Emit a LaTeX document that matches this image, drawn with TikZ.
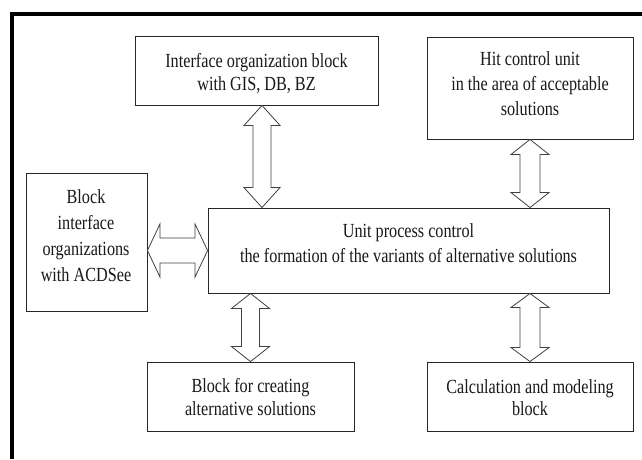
\documentclass[tikz,border=0pt]{standalone}
\usepackage{fontspec}
\setmainfont{Liberation Serif}[FakeStretch=0.81]
\usetikzlibrary{calc}
\tikzset{
  box/.style={draw=black!85, line width=0.9pt, fill=white, inner sep=0pt, minimum width=#1},
  lbl/.style={inner sep=0pt, align=center, text=black!90},
  arr/.style={draw=black!75, line width=0.8pt, fill=white, line join=miter},
}
% vertical double arrow: #1 top tip, #2 bottom tip, #3 half shaft, #4 half head, #5 head length
\newcommand\myvarrow[5]{%
  \draw[arr] (#1) -- ($(#1)+(#4,#5)$) -- ($(#1)+(#3,#5)$) -- ($(#2)+(#3,-#5)$)
    -- ($(#2)+(#4,-#5)$) -- (#2) -- ($(#2)+(-#4,-#5)$) -- ($(#2)+(-#3,-#5)$)
    -- ($(#1)+(-#3,#5)$) -- ($(#1)+(-#4,#5)$) -- cycle;}
% horizontal double arrow: #1 left tip, #2 right tip
\newcommand\myharrow[5]{%
  \draw[arr] (#1) -- ($(#1)+(#5,-#4)$) -- ($(#1)+(#5,-#3)$) -- ($(#2)+(-#5,-#3)$)
    -- ($(#2)+(-#5,-#4)$) -- (#2) -- ($(#2)+(-#5,#4)$) -- ($(#2)+(-#5,#3)$)
    -- ($(#1)+(#5,#3)$) -- ($(#1)+(#5,#4)$) -- cycle;}
\begin{document}
\begin{tikzpicture}[x=1pt,y=-1pt]
\useasboundingbox (0,0) rectangle (642,459);
\fill[white] (0,0) rectangle (642,459);
% frame (cropped)
\draw[line width=4pt] (12,459) -- (12,14) -- (642,14);

% boxes
\node[box=243pt, minimum height=69pt]  (gis)  at (256.5,70.5) {};
\node[box=206pt, minimum height=102pt] (hit)  at (530,88) {};
\node[box=121pt, minimum height=138pt] (acd)  at (86.5,242) {};
\node[box=401pt, minimum height=85pt]  (ctr)  at (408.5,250.5) {};
\node[box=207pt, minimum height=69pt]  (alt)  at (250.5,396.5) {};
\node[box=206pt, minimum height=69pt]  (calc) at (530,396.5) {};

% texts
\node[lbl, font=\fontsize{20}{23}\selectfont] (gist) at (256.5,73.2)
  {Interface organization block\\with GIS, DB, BZ};
\node[lbl, font=\fontsize{20}{25}\selectfont] (hitt) at (530,83.2)
  {Hit control unit\\in the area of acceptable\\solutions};
\node[lbl, font=\fontsize{20}{25.7}\selectfont] (acdt) at (86,235.7)
  {Block\\interface\\organizations\\with ACDSee};
\node[lbl, font=\fontsize{20}{25}\selectfont] (ctrt) at (408.5,242.7)
  {Unit process control\\the formation of the variants of alternative solutions};
\node[lbl, font=\fontsize{20}{23}\selectfont] (altt) at (250.5,396.7)
  {Block for creating\\alternative solutions};
\node[lbl, font=\fontsize{20}{22}\selectfont] (calct) at (530,397.2)
  {Calculation and modeling\\block};

% connectors (hollow double arrows)
\coordinate (a1t) at ($(gis.south)+(5.5,0)$);
\coordinate (a1b) at (a1t |- ctr.north);
\myvarrow{a1t}{a1b}{9}{18}{20}
\coordinate (a2t) at (hit.south);
\coordinate (a2b) at (hit.south |- ctr.north);
\myvarrow{a2t}{a2b}{10}{19}{15}
\coordinate (a3l) at ($(acd.east)+(0,8.5)$);
\coordinate (a3r) at (a3l -| ctr.west);
\myharrow{a3l}{a3r}{12.5}{26.5}{12.5}
\coordinate (a4b) at (alt.north);
\coordinate (a4t) at (alt.north |- ctr.south);
\myvarrow{a4t}{a4b}{9}{19}{15}
\coordinate (a5b) at (calc.north);
\coordinate (a5t) at (calc.north |- ctr.south);
\myvarrow{a5t}{a5b}{10}{19}{14}
\end{tikzpicture}
\end{document}
